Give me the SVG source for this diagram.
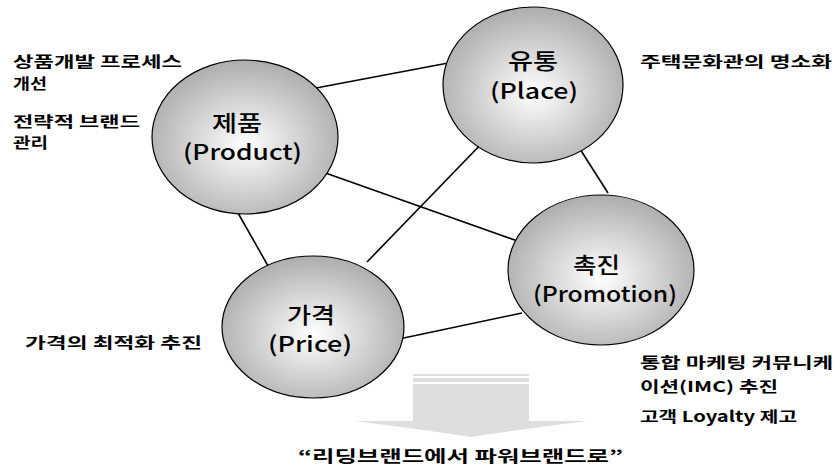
<svg xmlns="http://www.w3.org/2000/svg" width="837" height="467" viewBox="0 0 837 467">
  <defs>
    <radialGradient id="ball" cx="50%" cy="55%" r="55%">
      <stop offset="0%" stop-color="#ffffff"/>
      <stop offset="100%" stop-color="#adadad"/>
    </radialGradient>
    <style>
      .node ellipse { fill: url(#ball); stroke: #000; stroke-width: 1.2; }
      .lbl { font-family: "Noto Sans CJK KR", "DejaVu Sans", sans-serif; font-size: 22px; font-weight: 500; fill: #000; }
      .side { font-family: "Noto Sans CJK KR", "DejaVu Sans", sans-serif; font-size: 15px; font-weight: 700; fill: #000; }
      .conn line { stroke: #000; stroke-width: 1.6; }
      .arrow { fill: #dedede; }
    </style>
  </defs>
  <rect width="837" height="467" fill="#ffffff"/>

  <g id="connectors" class="conn">
    <line x1="316" y1="88" x2="480" y2="57"/>
    <line x1="317" y1="170" x2="543" y2="250"/>
    <line x1="238" y1="213" x2="280" y2="287"/>
    <line x1="487" y1="138" x2="367" y2="262"/>
    <line x1="573" y1="138" x2="608" y2="193"/>
    <line x1="380" y1="343" x2="522" y2="313"/>
  </g>

  <g id="node-product" class="node">
    <ellipse cx="245" cy="137" rx="93" ry="77"/>
    <text class="lbl" x="212" y="131" textLength="50" lengthAdjust="spacingAndGlyphs">제품</text>
    <text class="lbl" x="183" y="160" textLength="119" lengthAdjust="spacingAndGlyphs">(Product)</text>
  </g>

  <g id="node-place" class="node">
    <ellipse cx="533" cy="85" rx="90" ry="78"/>
    <text class="lbl" x="508" y="69" textLength="50" lengthAdjust="spacingAndGlyphs">유통</text>
    <text class="lbl" x="490" y="99" textLength="88" lengthAdjust="spacingAndGlyphs">(Place)</text>
  </g>

  <g id="node-price" class="node">
    <ellipse cx="313" cy="327" rx="91" ry="71"/>
    <text class="lbl" x="287" y="323" textLength="48" lengthAdjust="spacingAndGlyphs">가격</text>
    <text class="lbl" x="268" y="352" textLength="84" lengthAdjust="spacingAndGlyphs">(Price)</text>
  </g>

  <g id="node-promotion" class="node">
    <ellipse cx="601" cy="270" rx="93" ry="75"/>
    <text class="lbl" x="573" y="273" textLength="47" lengthAdjust="spacingAndGlyphs">촉진</text>
    <text class="lbl" x="533" y="302" textLength="144" lengthAdjust="spacingAndGlyphs">(Promotion)</text>
  </g>

  <g id="notes-product">
    <text class="side" x="13" y="67" textLength="169" lengthAdjust="spacingAndGlyphs">상품개발 프로세스</text>
    <text class="side" x="13" y="89" textLength="34" lengthAdjust="spacingAndGlyphs">개선</text>
    <text class="side" x="13" y="127" textLength="127" lengthAdjust="spacingAndGlyphs">전략적 브랜드</text>
    <text class="side" x="13" y="148" textLength="35" lengthAdjust="spacingAndGlyphs">관리</text>
  </g>

  <g id="notes-place">
    <text class="side" x="640" y="67" textLength="192" lengthAdjust="spacingAndGlyphs">주택문화관의 명소화</text>
  </g>

  <g id="notes-price">
    <text class="side" x="25" y="348" textLength="177" lengthAdjust="spacingAndGlyphs">가격의 최적화 추진</text>
  </g>

  <g id="notes-promotion">
    <text class="side" x="640" y="368" textLength="193" lengthAdjust="spacingAndGlyphs">통합 마케팅 커뮤니케</text>
    <text class="side" x="640" y="392" textLength="138" lengthAdjust="spacingAndGlyphs">이션(IMC) 추진</text>
    <text class="side" x="640" y="422" textLength="157" lengthAdjust="spacingAndGlyphs">고객 Loyalty 제고</text>
  </g>

  <g id="result-arrow">
    <rect class="arrow" x="413" y="374" width="116" height="2"/>
    <rect class="arrow" x="413" y="378" width="116" height="4"/>
    <rect class="arrow" x="413" y="384" width="116" height="38"/>
    <path class="arrow" d="M355 421 L587 421 Q530 428 471 437 Q412 428 355 421 Z"/>
  </g>

  <g id="result-text">
    <text class="side" x="298" y="462" textLength="325" lengthAdjust="spacingAndGlyphs" style="font-size:16px">“리딩브랜드에서 파워브랜드로”</text>
  </g>
</svg>
